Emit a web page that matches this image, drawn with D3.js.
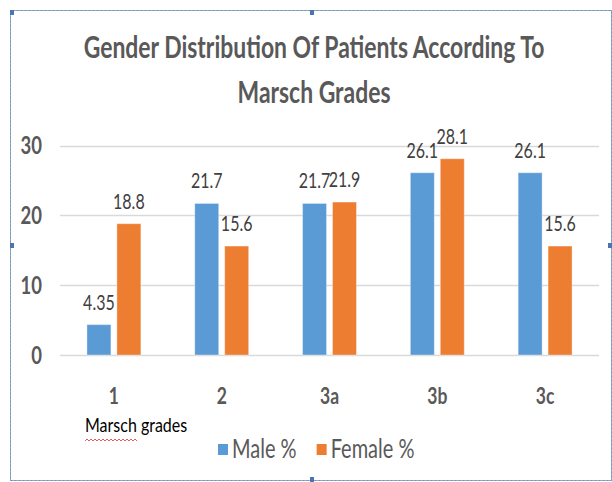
<!DOCTYPE html>
<html>
<head>
<meta charset="utf-8">
<script src="https://cdn.jsdelivr.net/npm/d3@7"></script>
<style>
  html, body { margin: 0; padding: 0; background: #fff; }
  svg { display: block; }
  text { font-family: Lato, "Open Sans", sans-serif; }
</style>
</head>
<body>
<div id="chart"></div>
<script>
// dados do gráfico
var grades = ["1", "2", "3a", "3b", "3c"];
var male = [4.35, 21.7, 21.7, 26.1, 26.1];
var female = [18.8, 15.6, 21.9, 28.1, 15.6];
var seriesNames = ["Male %", "Female %"];
var seriesColors = ["#5B9BD5", "#ED7D31"];
var yTicks = [0, 10, 20, 30];
var titleLines = ["Gender Distribution Of Patients According To", "Marsch Grades"];
var axisTitle = "Marsch grades";

var width = 612, height = 482;
var esticar = 1.3;   // o texto do original está esticado na vertical

var svg = d3.select("#chart").append("svg")
    .attr("width", width)
    .attr("height", height);

// move x/y para um transform com escala vertical
function stretch(sel, k) {
    sel.each(function() {
        var t = d3.select(this);
        var tx = +t.attr("x"), ty = +t.attr("y");
        t.attr("x", 0).attr("y", 0)
         .attr("transform", "translate(" + tx + "," + ty + ") scale(1," + k + ")");
    });
}

// moldura tracejada (caixa de seleção)
var frame = svg.append("g");
frame.append("rect")
    .attr("x", 10.5).attr("y", 10.5)
    .attr("width", 601).attr("height", 470)
    .style("fill", "none")
    .style("stroke", "#7f8fa8")
    .style("stroke-width", 1);
frame.append("rect")
    .attr("x", 10.5).attr("y", 10.5)
    .attr("width", 601).attr("height", 470)
    .style("fill", "none")
    .style("stroke", "#8fb0e0")
    .style("stroke-width", 1)
    .style("stroke-dasharray", "2,2");
var handles = [[10, 10], [310, 10], [10, 243], [310, 477], [608, 243]];
frame.selectAll(".handle")
    .data(handles)
    .enter().append("rect")
    .attr("class", "handle")
    .attr("x", function(d) { return d[0]; })
    .attr("y", function(d) { return d[1]; })
    .attr("width", 4).attr("height", 5)
    .style("fill", "#4a74b4");

// escalas
var x0 = d3.scaleBand()
    .domain(grades)
    .range([60, 599])
    .paddingInner(0.5)
    .paddingOuter(0.25);

var x1 = d3.scaleBand()
    .domain(seriesNames)
    .range([0, x0.bandwidth()])
    .paddingInner(0.2);

var y = d3.scaleLinear()
    .domain([0, 30])
    .range([355, 145.5]);

var color = d3.scaleOrdinal()
    .domain(seriesNames)
    .range(seriesColors);

// linhas de grade
svg.append("g")
    .selectAll("line")
    .data(yTicks)
    .enter().append("line")
    .attr("x1", 60).attr("x2", 599)
    .attr("y1", function(d) { return Math.round(y(d)) + 0.5; })
    .attr("y2", function(d) { return Math.round(y(d)) + 0.5; })
    .style("stroke", "#d9d9d9")
    .style("stroke-width", 1.5);

// rótulos do eixo y
svg.append("g")
    .selectAll("text")
    .data(yTicks)
    .enter().append("text")
    .attr("x", 42)
    .attr("y", function(d) { return y(d); })
    .attr("dy", "0.36em")
    .attr("text-anchor", "end")
    .style("font-size", "18.5px")
    .style("font-weight", "bold")
    .style("fill", "#595959")
    .text(function(d) { return d; })
    .call(stretch, esticar);

// rótulos do eixo x
svg.append("g")
    .selectAll("text")
    .data(grades)
    .enter().append("text")
    .attr("x", function(d) { return x0(d) + x0.bandwidth() / 2; })
    .attr("y", 396)
    .attr("dy", "0.36em")
    .attr("text-anchor", "middle")
    .style("font-size", "17.5px")
    .style("font-weight", "bold")
    .style("fill", "#595959")
    .text(function(d) { return d; })
    .call(stretch, esticar);

// barras
var rows = grades.map(function(g, i) {
    return { grade: g, values: [
        { serie: seriesNames[0], valor: male[i] },
        { serie: seriesNames[1], valor: female[i] }
    ]};
});

var group = svg.append("g")
    .selectAll(".grupo")
    .data(rows)
    .enter().append("g")
    .attr("class", "grupo")
    .attr("transform", function(d) { return "translate(" + x0(d.grade) + ",0)"; });

group.selectAll("rect")
    .data(function(d) { return d.values; })
    .enter().append("rect")
    .attr("x", function(d) { return x1(d.serie); })
    .attr("y", function(d) { return y(d.valor); })
    .attr("width", x1.bandwidth())
    .attr("height", function(d) { return y(0) - y(d.valor); })
    .style("fill", function(d) { return color(d.serie); })
    .style("stroke", "#fff")
    .style("stroke-opacity", 0.35)
    .style("stroke-width", 1);

group.selectAll(".valor")
    .data(function(d) { return d.values; })
    .enter().append("text")
    .attr("class", "valor")
    .attr("x", function(d) { return x1(d.serie) + x1.bandwidth() / 2; })
    .attr("y", function(d) { return y(d.valor) - 15; })
    .attr("text-anchor", "middle")
    .style("font-size", "16px")
    .style("fill", "#404040")
    .text(function(d) { return d.valor; })
    .call(stretch, esticar);

// título (ajusta o tamanho à largura)
var titleY = [58, 103];
var titleTexts = svg.append("g")
    .selectAll("text")
    .data(titleLines)
    .enter().append("text")
    .attr("x", 314)
    .attr("y", function(d, i) { return titleY[i]; })
    .attr("text-anchor", "middle")
    .style("font-size", "21px")
    .style("font-weight", "bold")
    .style("fill", "#595959")
    .text(function(d) { return d; });
var len = titleTexts.node().getComputedTextLength();
titleTexts.style("font-size", (21 * 461 / len) + "px")
    .call(stretch, esticar);

// título do eixo x
svg.append("text")
    .attr("x", 85)
    .attr("y", 432)
    .style("font-size", "16px")
    .style("fill", "#000")
    .text(axisTitle)
    .call(stretch, 1.15);

// sublinhado ondulado do corretor
var wave = [];
for (var i = 0; i <= 26; i++) wave.push([85 + i * 2, 440 + (i % 2 ? -1 : 1)]);
svg.append("path")
    .attr("d", d3.line()(wave))
    .style("fill", "none")
    .style("stroke", "#e03030")
    .style("stroke-width", 0.8);

// legenda
var legend = svg.append("g");
var lx = 218;
seriesNames.forEach(function(name) {
    legend.append("rect")
        .attr("x", lx).attr("y", 444)
        .attr("width", 10).attr("height", 11)
        .style("fill", color(name));
    var t = legend.append("text")
        .attr("x", lx + 14)
        .attr("y", 449)
        .attr("dy", "0.36em")
        .style("font-size", "20px")
        .style("fill", "#595959")
        .text(name);
    lx += 14 + t.node().getComputedTextLength() + 20;
    t.call(stretch, esticar);
});
</script>
</body>
</html>
